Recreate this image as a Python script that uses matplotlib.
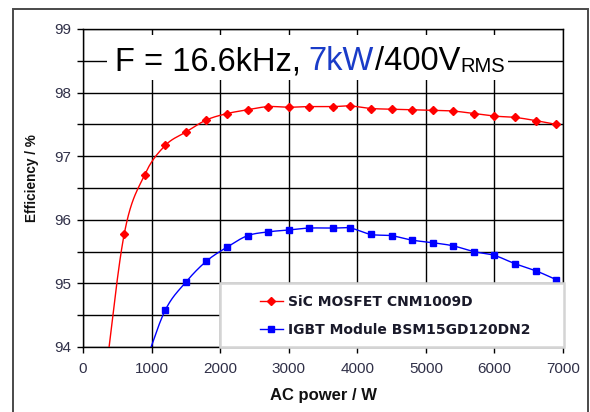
import matplotlib
matplotlib.use("Agg")
import matplotlib.pyplot as plt
from matplotlib.patches import Rectangle
import numpy as np

plt.rcParams['font.family'] = ['Liberation Sans', 'DejaVu Sans']

# ---- data ----
sic_power = [300, 600, 900, 1200, 1500, 1800, 2100, 2400, 2700, 3000, 3300, 3650, 3900,
             4200, 4500, 4800, 5100, 5400, 5700, 6000, 6300, 6600, 6900]
sic_eff = [93.3, 95.77, 96.71, 97.17, 97.38, 97.57, 97.67, 97.73, 97.78, 97.77, 97.78, 97.78, 97.79,
           97.75, 97.74, 97.73, 97.72, 97.71, 97.67, 97.63, 97.61, 97.56, 97.50]
igbt_power = [900, 1200, 1500, 1800, 2100, 2400, 2700, 3000, 3300, 3650, 3900,
              4200, 4500, 4800, 5100, 5400, 5700, 6000, 6300, 6600, 6900]
igbt_eff = [93.72, 94.58, 95.02, 95.35, 95.57, 95.75, 95.81, 95.84, 95.87, 95.87, 95.87,
            95.77, 95.75, 95.68, 95.64, 95.59, 95.50, 95.44, 95.31, 95.20, 95.06]
sic_label = "SiC MOSFET CNM1009D"
igbt_label = "IGBT Module BSM15GD120DN2"
x_ticks = [0, 1000, 2000, 3000, 4000, 5000, 6000, 7000]
y_ticks = [94, 95, 96, 97, 98, 99]
x_label = "AC power / W"
y_label = "Efficiency / %"


def smooth(xs, ys, n=24):
    """Catmull-Rom rendering of a line through the points (like a smoothed line)."""
    x = np.asarray(xs, float)
    y = np.asarray(ys, float)
    px = np.concatenate([[2 * x[0] - x[1]], x, [2 * x[-1] - x[-2]]])
    py = np.concatenate([[2 * y[0] - y[1]], y, [2 * y[-1] - y[-2]]])
    outx, outy = [], []
    t = np.linspace(0, 1, n, endpoint=False)
    for i in range(1, len(px) - 2):
        for arr, out in ((px, outx), (py, outy)):
            p0, p1, p2, p3 = arr[i - 1], arr[i], arr[i + 1], arr[i + 2]
            out.extend(0.5 * ((2 * p1) + (-p0 + p2) * t + (2 * p0 - 5 * p1 + 4 * p2 - p3) * t ** 2
                              + (-p0 + 3 * p1 - 3 * p2 + p3) * t ** 3))
    outx.append(x[-1])
    outy.append(y[-1])
    return outx, outy


fig = plt.figure(figsize=(5.9, 4.12), dpi=100)
fig.patch.set_facecolor('white')
ax = fig.add_axes([83 / 590, 1 - 347 / 412, 480 / 590, 318 / 412])

tick_color = '#303048'

# smooth lines + markers
sx, sy = smooth(sic_power, sic_eff)
ax.plot(sx, sy, color='#ff0000', lw=1.0, zorder=3)
ax.plot(sic_power, sic_eff, linestyle='none', marker='D', markersize=3.8, color='#ff0000', zorder=3)
ix, iy = smooth(igbt_power, igbt_eff)
ax.plot(ix, iy, color='#0000ff', lw=1.0, zorder=3)
ax.plot(igbt_power, igbt_eff, linestyle='none', marker='s', markersize=5, color='#0000ff', zorder=3)

ax.set_xlim(0, 7000)
ax.set_ylim(94, 99)
ax.set_xticks(x_ticks)
ax.set_yticks(y_ticks)
ax.set_yticks([94.5, 95.5, 96.5, 97.5, 98.5], minor=True)
ax.set_axisbelow(True)
ax.grid(True, which='both', color='black', lw=1.0)
for s in ax.spines.values():
    s.set_color('black')
    s.set_linewidth(1.0)
ax.tick_params(axis='y', which='both', direction='out', length=4.3, width=1, color='black',
               labelsize=11, labelcolor=tick_color, pad=4)
ax.tick_params(axis='x', which='both', direction='out', length=4, width=1, color='black',
               labelsize=11, labelcolor=tick_color, pad=7)
ax.set_xlabel(x_label, fontsize=12, fontweight='bold', color='#111111')
ax.xaxis.set_label_coords(0.5, (347 - 388) / 318)
ax.set_ylabel(y_label, fontsize=9.8, fontweight='bold', color='#111111')
ax.yaxis.set_label_coords((31.7 - 83) / 480, (347 - 178) / 318)
ax.yaxis.label.set_va('center')

# title box inside the plot
ax.add_patch(Rectangle((350, 98.198), 5845, 0.708, facecolor='white', edgecolor='none', zorder=2.6))
yb = 98.355
t1 = ax.text(466, yb, "F = 16.6kHz,", fontsize=23.5, color='black', va='baseline', zorder=2.7)
t2 = ax.annotate("7kW", xy=(1, yb), xycoords=(t1, 'data'), xytext=(5.7, 0), textcoords='offset points',
                 fontsize=23.5, color='#1a3cc8', va='baseline', ha='left', zorder=2.7)
t3 = ax.annotate("/400V", xy=(1, yb), xycoords=(t2, 'data'), xytext=(0.5, 0), textcoords='offset points',
                 fontsize=23.5, color='black', va='baseline', ha='left', zorder=2.7)
t4 = ax.annotate("RMS", xy=(1, yb - 0.025), xycoords=(t3, 'data'), xytext=(0.5, 0), textcoords='offset points',
                 fontsize=14.5, color='black', va='baseline', ha='left', zorder=2.7)

# legend box
lx0 = (220 - 83) / 480
ax.add_patch(Rectangle((lx0, 0.0), 1.002 - lx0, 64 / 318, transform=ax.transAxes, facecolor='white',
                       edgecolor='#d4d4d4', lw=1.8, zorder=4.5, clip_on=False))
h1, = ax.plot([], [], color='#ff0000', lw=1.0, marker='D', markersize=3.8)
h2, = ax.plot([], [], color='#0000ff', lw=1.0, marker='s', markersize=5)
leg = ax.legend([h1, h2], [sic_label, igbt_label], loc='center left',
                bbox_to_anchor=((260 - 83) / 480, (347 - 316) / 318), frameon=False,
                borderpad=0, borderaxespad=0, handlelength=1.65, handletextpad=0.4,
                labelspacing=1.05, prop={'weight': 'bold', 'size': 10, 'family': ['DejaVu Sans']})
for t in leg.get_texts():
    t.set_color('#1a1a2a')
leg.set_zorder(5)

# outer figure frame
fig.add_artist(Rectangle((13 / 590, -0.05), (588 - 13) / 590, (412 - 9) / 412 + 0.05,
                         transform=fig.transFigure, facecolor='none', edgecolor='#4a4a4a', lw=1.4))

fig.savefig('out.png', dpi=100)
